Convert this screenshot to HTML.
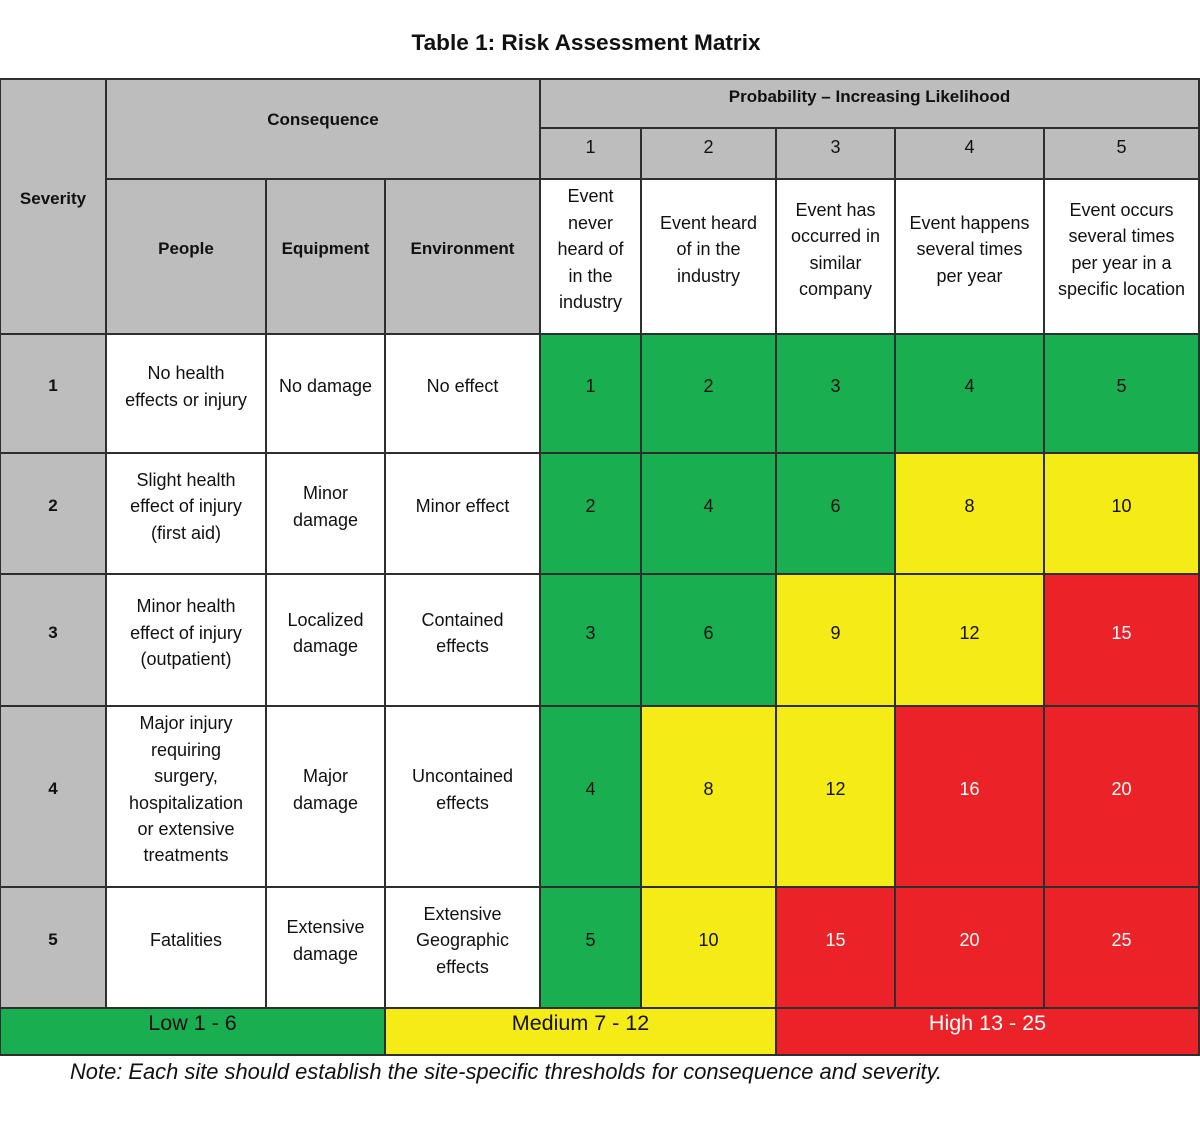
<!DOCTYPE html>
<html>
<head>
<meta charset="utf-8">
<style>
  html,body{margin:0;padding:0;background:#fff;}
  body{width:1200px;height:1134px;position:relative;overflow:hidden;font-family:"Liberation Sans",Arial,sans-serif;color:#111;}
  .t{position:absolute;left:0;width:1172px;top:28px;text-align:center;font-weight:bold;font-size:22.6px;line-height:30px;}
  .c{position:absolute;box-sizing:border-box;border:2px solid #2e2e2e;display:flex;align-items:center;justify-content:center;text-align:center;padding-bottom:14px;line-height:26.4px;font-size:18px;}
  .b{font-weight:bold;font-size:17px;}
  .g{background:#bdbdbd;}
  .w{background:#fff;}
  .gr{background:#19ae4f;}
  .y{background:#f5eb16;}
  .r{background:#eb2228;color:#fff;}
  .lg{font-size:21.5px;padding-bottom:17px;align-items:center;}
  .note{position:absolute;left:70px;top:1058px;font-style:italic;font-size:21.9px;line-height:28px;white-space:nowrap;}
</style>
</head>
<body>
<div class="t">Table 1: Risk Assessment Matrix</div>

<!-- header -->
<div class="c g b" style="left:-1px;top:78px;width:108px;height:257px;">Severity</div>
<div class="c g b" style="left:105px;top:78px;width:436px;height:102px;padding-bottom:18px;">Consequence</div>
<div class="c g b" style="left:539px;top:78px;width:661px;height:51px;padding-bottom:12px;">Probability – Increasing Likelihood</div>

<div class="c g" style="left:539px;top:127px;width:103px;height:53px;padding-bottom:12px;">1</div>
<div class="c g" style="left:640px;top:127px;width:137px;height:53px;padding-bottom:12px;">2</div>
<div class="c g" style="left:775px;top:127px;width:121px;height:53px;padding-bottom:12px;">3</div>
<div class="c g" style="left:894px;top:127px;width:151px;height:53px;padding-bottom:12px;">4</div>
<div class="c g" style="left:1043px;top:127px;width:157px;height:53px;padding-bottom:12px;">5</div>

<div class="c g b" style="left:105px;top:178px;width:162px;height:157px;">People</div>
<div class="c g b" style="left:265px;top:178px;width:121px;height:157px;">Equipment</div>
<div class="c g b" style="left:384px;top:178px;width:157px;height:157px;">Environment</div>

<div class="c w" style="left:539px;top:178px;width:103px;height:157px;">Event<br>never<br>heard of<br>in the<br>industry</div>
<div class="c w" style="left:640px;top:178px;width:137px;height:157px;">Event heard<br>of in the<br>industry</div>
<div class="c w" style="left:775px;top:178px;width:121px;height:157px;">Event has<br>occurred in<br>similar<br>company</div>
<div class="c w" style="left:894px;top:178px;width:151px;height:157px;">Event happens<br>several times<br>per year</div>
<div class="c w" style="left:1043px;top:178px;width:157px;height:157px;">Event occurs<br>several times<br>per year in a<br>specific location</div>

<!-- row 1 : 334-453 -->
<div class="c g b" style="left:-1px;top:333px;width:108px;height:121px;">1</div>
<div class="c w" style="left:105px;top:333px;width:162px;height:121px;">No health<br>effects or injury</div>
<div class="c w" style="left:265px;top:333px;width:121px;height:121px;">No damage</div>
<div class="c w" style="left:384px;top:333px;width:157px;height:121px;">No effect</div>
<div class="c gr" style="left:539px;top:333px;width:103px;height:121px;">1</div>
<div class="c gr" style="left:640px;top:333px;width:137px;height:121px;">2</div>
<div class="c gr" style="left:775px;top:333px;width:121px;height:121px;">3</div>
<div class="c gr" style="left:894px;top:333px;width:151px;height:121px;">4</div>
<div class="c gr" style="left:1043px;top:333px;width:157px;height:121px;">5</div>

<!-- row 2 : 453-574 -->
<div class="c g b" style="left:-1px;top:452px;width:108px;height:123px;">2</div>
<div class="c w" style="left:105px;top:452px;width:162px;height:123px;">Slight health<br>effect of injury<br>(first aid)</div>
<div class="c w" style="left:265px;top:452px;width:121px;height:123px;">Minor<br>damage</div>
<div class="c w" style="left:384px;top:452px;width:157px;height:123px;">Minor effect</div>
<div class="c gr" style="left:539px;top:452px;width:103px;height:123px;">2</div>
<div class="c gr" style="left:640px;top:452px;width:137px;height:123px;">4</div>
<div class="c gr" style="left:775px;top:452px;width:121px;height:123px;">6</div>
<div class="c y" style="left:894px;top:452px;width:151px;height:123px;">8</div>
<div class="c y" style="left:1043px;top:452px;width:157px;height:123px;">10</div>

<!-- row 3 : 574-706 -->
<div class="c g b" style="left:-1px;top:573px;width:108px;height:134px;">3</div>
<div class="c w" style="left:105px;top:573px;width:162px;height:134px;">Minor health<br>effect of injury<br>(outpatient)</div>
<div class="c w" style="left:265px;top:573px;width:121px;height:134px;">Localized<br>damage</div>
<div class="c w" style="left:384px;top:573px;width:157px;height:134px;">Contained<br>effects</div>
<div class="c gr" style="left:539px;top:573px;width:103px;height:134px;">3</div>
<div class="c gr" style="left:640px;top:573px;width:137px;height:134px;">6</div>
<div class="c y" style="left:775px;top:573px;width:121px;height:134px;">9</div>
<div class="c y" style="left:894px;top:573px;width:151px;height:134px;">12</div>
<div class="c r" style="left:1043px;top:573px;width:157px;height:134px;">15</div>

<!-- row 4 : 706-887 -->
<div class="c g b" style="left:-1px;top:705px;width:108px;height:183px;">4</div>
<div class="c w" style="left:105px;top:705px;width:162px;height:183px;">Major injury<br>requiring<br>surgery,<br>hospitalization<br>or extensive<br>treatments</div>
<div class="c w" style="left:265px;top:705px;width:121px;height:183px;">Major<br>damage</div>
<div class="c w" style="left:384px;top:705px;width:157px;height:183px;">Uncontained<br>effects</div>
<div class="c gr" style="left:539px;top:705px;width:103px;height:183px;">4</div>
<div class="c y" style="left:640px;top:705px;width:137px;height:183px;">8</div>
<div class="c y" style="left:775px;top:705px;width:121px;height:183px;">12</div>
<div class="c r" style="left:894px;top:705px;width:151px;height:183px;">16</div>
<div class="c r" style="left:1043px;top:705px;width:157px;height:183px;">20</div>

<!-- row 5 : 887-1008 -->
<div class="c g b" style="left:-1px;top:886px;width:108px;height:123px;">5</div>
<div class="c w" style="left:105px;top:886px;width:162px;height:123px;">Fatalities</div>
<div class="c w" style="left:265px;top:886px;width:121px;height:123px;">Extensive<br>damage</div>
<div class="c w" style="left:384px;top:886px;width:157px;height:123px;">Extensive<br>Geographic<br>effects</div>
<div class="c gr" style="left:539px;top:886px;width:103px;height:123px;">5</div>
<div class="c y" style="left:640px;top:886px;width:137px;height:123px;">10</div>
<div class="c r" style="left:775px;top:886px;width:121px;height:123px;">15</div>
<div class="c r" style="left:894px;top:886px;width:151px;height:123px;">20</div>
<div class="c r" style="left:1043px;top:886px;width:157px;height:123px;">25</div>

<!-- legend : 1008-1055 -->
<div class="c gr lg" style="left:-1px;top:1007px;width:387px;height:49px;">Low 1 - 6</div>
<div class="c y lg" style="left:384px;top:1007px;width:393px;height:49px;">Medium 7 - 12</div>
<div class="c r lg" style="left:775px;top:1007px;width:425px;height:49px;">High 13 - 25</div>

<div class="note">Note: Each site should establish the site-specific thresholds for consequence and severity.</div>
</body>
</html>
